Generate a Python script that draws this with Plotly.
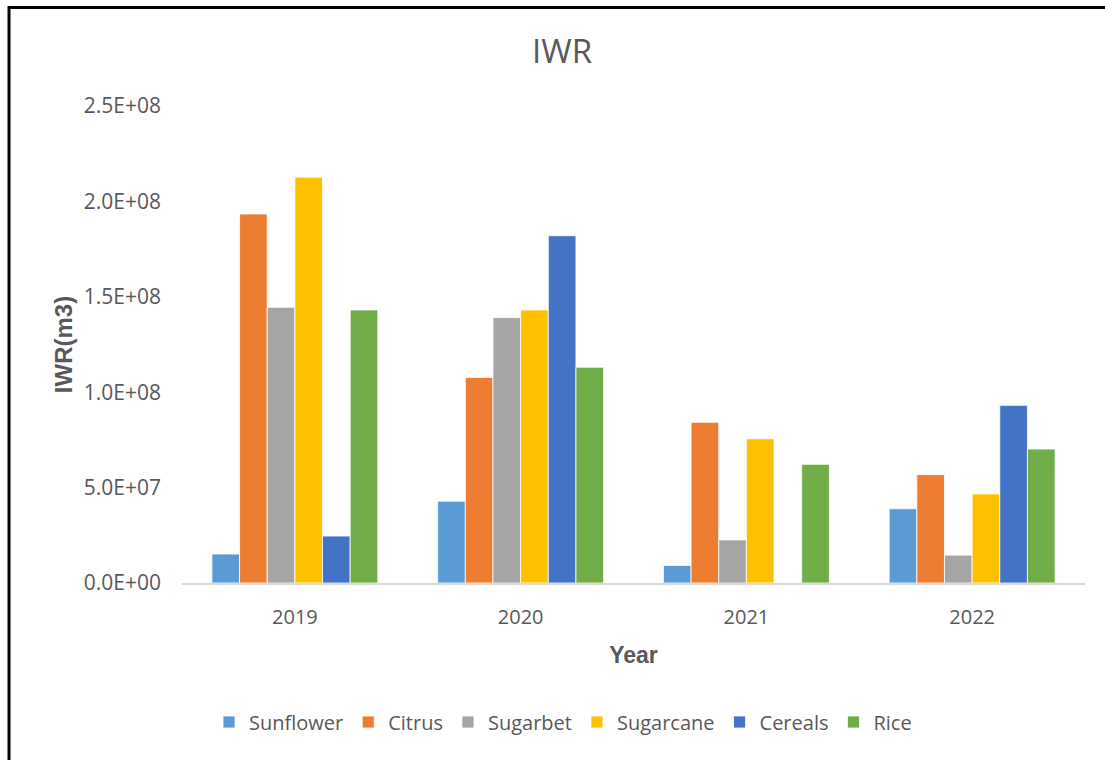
import plotly.graph_objects as go

years = ["2019", "2020", "2021", "2022"]
series_names = ["Sunflower", "Citrus", "Sugarbet", "Sugarcane", "Cereals", "Rice"]
sunflower = [1.52e7, 4.29e7, 9.2e6, 3.89e7]
citrus = [1.934e8, 1.077e8, 8.42e7, 5.68e7]
sugarbet = [1.445e8, 1.391e8, 2.26e7, 1.46e7]
sugarcane = [2.127e8, 1.431e8, 7.56e7, 4.67e7]
cereals = [2.46e7, 1.82e8, 0, 9.31e7]
rice = [1.431e8, 1.131e8, 6.22e7, 7.02e7]
y_tickvals = [0, 5e7, 1e8, 1.5e8, 2e8, 2.5e8]
y_ticktext = ["0.0E+00", "5.0E+07", "1.0E+08", "1.5E+08", "2.0E+08", "2.5E+08"]

colors = ["#5B9BD5", "#ED7D31", "#A5A5A5", "#FFC000", "#4472C4", "#70AD47"]
values = [sunflower, citrus, sugarbet, sugarcane, cereals, rice]

W, H = 1105, 760
ML, MR, MT, MB = 182, 20, 106, 177
PW, PH = W - ML - MR, H - MT - MB

txt = "#595959"
fig = go.Figure()
for name, vals, c in zip(series_names, values, colors):
    fig.add_trace(go.Bar(name=name, x=years, y=vals, marker=dict(color=c, line=dict(color="white", width=0.8))))

def px_to_paper_x(px):
    return (px - ML) / PW

def px_to_paper_y(py):
    return (H - MB - py) / PH

fig.update_layout(
    width=W, height=H,
    margin=dict(l=ML, r=MR, t=MT, b=MB),
    paper_bgcolor="white", plot_bgcolor="white",
    barmode="group", bargap=0.265, bargroupgap=0,
    font=dict(family="Open Sans", color=txt, size=20),
    title=dict(text="IWR", font=dict(family="Open Sans", size=33, color=txt),
               xref="container", yref="container", x=562 / W, y=1 - 51 / H,
               xanchor="center", yanchor="middle"),
    xaxis=dict(showgrid=False, showline=True, linecolor="#D9D9D9", linewidth=2,
               ticks="", ticklabelstandoff=15, tickfont=dict(size=20, color=txt),
               title=dict(text="<b>Year</b>", font=dict(family="Liberation Sans", size=23, color=txt), standoff=18)),
    yaxis=dict(range=[0, 2.5e8], showgrid=False, zeroline=False, showline=False,
               tickvals=y_tickvals, ticktext=y_ticktext, ticks="", ticklabelstandoff=20,
               tickfont=dict(size=21, color=txt),
               title=dict(text="<b>IWR(m3)</b>", font=dict(family="Liberation Sans", size=24, color=txt), standoff=4)),
    legend=dict(orientation="h", xref="container", yref="container", x=563 / W, y=1 - 722 / H,
                xanchor="center", yanchor="middle", font=dict(size=20, color=txt),
                traceorder="normal", itemwidth=30),
    showlegend=True,
)

fig.add_shape(type="rect", xref="paper", yref="paper",
              x0=px_to_paper_x(9), x1=px_to_paper_x(W + 20),
              y0=px_to_paper_y(H + 20), y1=px_to_paper_y(7.5),
              line=dict(color="black", width=3), fillcolor="rgba(0,0,0,0)", layer="above")

fig.write_html("out.html")
